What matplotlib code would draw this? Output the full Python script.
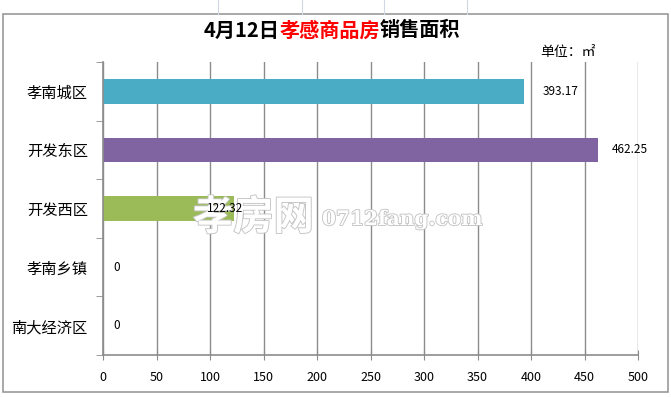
import matplotlib.pyplot as plt
import matplotlib.patheffects as pe
from matplotlib.patches import Rectangle

plt.rcParams['font.family'] = ['Noto Sans CJK SC', 'DejaVu Sans']

# --- data ---
districts = ["孝南城区", "开发东区", "开发西区", "孝南乡镇", "南大经济区"]
areas = [393.17, 462.25, 122.32, 0, 0]
bar_colors = ["#4BACC6", "#8064A2", "#9BBB59", "#4BACC6", "#4BACC6"]
x_ticks = [0, 50, 100, 150, 200, 250, 300, 350, 400, 450, 500]

# label offsets (pixels from bar end), as placed in the original sheet
label_dx = [19, 14, -27, 10, 10]

GRID = "#8c8c8c"

fig = plt.figure(figsize=(6.71, 3.97), dpi=100, facecolor="white")

# spreadsheet frame around the chart
fig.patches.append(Rectangle((3 / 671, 5 / 397), 665 / 671, 378 / 397,
                             transform=fig.transFigure, fill=False,
                             edgecolor="#9a9a9a", linewidth=1.2))
for gx in [218, 302, 384, 467]:
    fig.add_artist(plt.Line2D([gx / 671, gx / 671], [383 / 397, 1],
                              color="#d0d7e5", linewidth=0.8))

ax = fig.add_axes([103 / 671, 42 / 397, 535 / 671, 293 / 397])
ypos = list(range(len(districts)))
ax.barh(ypos, areas, height=0.42, color=bar_colors, zorder=2)
ax.set_ylim(len(districts) - 0.5, -0.5)
ax.set_xlim(0, 500)

ax.set_xticks(x_ticks)
ax.set_xticklabels([str(v) for v in x_ticks], fontsize=9)
ax.set_yticks(ypos)
ax.set_yticklabels(districts, fontsize=11)
ax.set_yticks([i + 0.5 for i in range(-1, len(districts))], minor=True)
ax.tick_params(axis='y', which='major', length=0, pad=11)
ax.tick_params(axis='y', which='minor', length=5, color=GRID, direction='out')
ax.tick_params(axis='x', length=7, color=GRID, direction='inout', pad=8)

ax.grid(axis='x', color=GRID, linewidth=1, zorder=0)
ax.set_axisbelow(True)
for s in ['top', 'right']:
    ax.spines[s].set_visible(False)
for s in ['left', 'bottom']:
    ax.spines[s].set_color(GRID)
    ax.spines[s].set_linewidth(1.2)

# watermark (drawn above the bars, below the value labels)
stroke = [pe.withStroke(linewidth=1.3, foreground="#c4c4c4")]
ax.text(193 / 671, 1 - 218 / 397, "孝房网", fontsize=29, fontweight='bold',
        color="white", va='center', ha='left', path_effects=stroke, zorder=4,
        transform=fig.transFigure)
ax.text(322 / 671, 1 - 219 / 397, "0712fang.com", fontsize=14.5,
        family='DejaVu Serif', fontweight='bold', color="white", va='center',
        ha='left', path_effects=stroke, zorder=4, transform=fig.transFigure)

# value labels
for i, v in enumerate(areas):
    ax.annotate(f"{v:g}" if v else "0", (v, i), xytext=(label_dx[i] * 0.72, 0),
                textcoords='offset points', va='center', ha='left',
                fontsize=8.5, zorder=5)

# title in three colored parts
parts = [("4月12日", "black"), ("孝感商品房", "red"), ("销售面积", "black")]
fig.canvas.draw()
r = fig.canvas.get_renderer()
texts = []
for s, c in parts:
    texts.append(fig.text(0, 1 - 30 / 397, s, color=c, fontsize=14.5,
                          fontweight='bold', va='center', ha='left'))
widths = [t.get_window_extent(r).width for t in texts]
x = 332 - sum(widths) / 2
for t, w in zip(texts, widths):
    t.set_x(x / 671)
    x += w

fig.text(540 / 671, 1 - 52 / 397, "单位：㎡", fontsize=10, va='center', ha='left')

fig.savefig("out.png", dpi=100, facecolor="white")
